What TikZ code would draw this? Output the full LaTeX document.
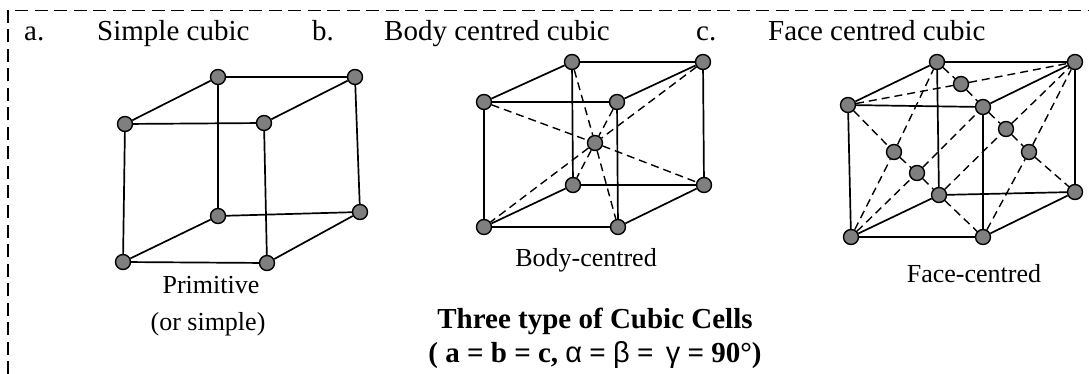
\documentclass[tikz,border=0pt]{standalone}
\usepackage{fontspec}
\setmainfont{Liberation Serif}
\newfontfamily\greekfont{Liberation Sans}
\usetikzlibrary{arrows.meta,positioning}
\definecolor{AtomGrey}{HTML}{7F7F7F}
\tikzset{
  atomdot/.style={circle,fill=AtomGrey,draw=black,line width=1.4pt,inner sep=0pt,minimum size=15pt},
  headtext/.style={anchor=base west,inner sep=0pt,font=\fontsize{29}{33}\selectfont},
  celltext/.style={anchor=base,inner sep=0pt,font=\fontsize{26}{30}\selectfont},
  titletext/.style={anchor=base,inner sep=0pt,font=\fontsize{29}{33}\selectfont\bfseries},
  celledge/.style={black,line width=1.7pt},
  diagedge/.style={black,line width=1.4pt,dash pattern=on 8pt off 5pt},
  framedge/.style={black,line width=1.6pt,dash pattern=on 13pt off 6.5pt}
}
\begin{document}
\begin{tikzpicture}[x=1pt,y=-1pt]
    \useasboundingbox (0,0) rectangle (1089,374);
    % outer frame
    \coordinate (fa) at (8,374);
    \coordinate (fb) at (8,10.5);
    \coordinate (fc) at (1089,10.5);
    \draw[framedge] (fa)--(fb)--(fc);
    % headings
    \node[headtext] (ha) at (24,41) {a.};
    \node[headtext] (hs) at (97,41) {Simple cubic};
    \node[headtext] (hb) at (312,41) {b.};
    \node[headtext] (hi) at (384,41) {Body centred cubic};
    \node[headtext] (hc) at (696,41) {c.};
    \node[headtext] (hf) at (768,41) {Face centred cubic};
    % simple cell
    \node[atomdot] (s1) at (218,77) {};
    \node[atomdot] (s2) at (355,77) {};
    \node[atomdot] (s3) at (125,124) {};
    \node[atomdot] (s4) at (264,123) {};
    \node[atomdot] (s5) at (218,216) {};
    \node[atomdot] (s6) at (360,212) {};
    \node[atomdot] (s7) at (123,262) {};
    \node[atomdot] (s8) at (267,263) {};
    \draw[celledge] (s1)--(s2);
    \draw[celledge] (s3)--(s4);
    \draw[celledge] (s5)--(s6);
    \draw[celledge] (s7)--(s8);
    \draw[celledge] (s1)--(s3);
    \draw[celledge] (s2)--(s4);
    \draw[celledge] (s5)--(s7);
    \draw[celledge] (s6)--(s8);
    \draw[celledge] (s1)--(s5);
    \draw[celledge] (s2)--(s6);
    \draw[celledge] (s3)--(s7);
    \draw[celledge] (s4)--(s8);
    \node[celltext] (sl) at (211,293) {Primitive};
    \node[celltext] (sm) at (208,330) {(or simple)};
    % body centred cell
    \node[atomdot] (b1) at (572,62) {};
    \node[atomdot] (b2) at (703,62) {};
    \node[atomdot] (b3) at (484,102) {};
    \node[atomdot] (b4) at (617,102) {};
    \node[atomdot] (b5) at (573,185) {};
    \node[atomdot] (b6) at (704,185) {};
    \node[atomdot] (b7) at (484,227) {};
    \node[atomdot] (b8) at (618,227) {};
    \node[atomdot] (b9) at (595,143) {};
    \draw[celledge] (b1)--(b2);
    \draw[celledge] (b3)--(b4);
    \draw[celledge] (b5)--(b6);
    \draw[celledge] (b7)--(b8);
    \draw[celledge] (b1)--(b3);
    \draw[celledge] (b2)--(b4);
    \draw[celledge] (b5)--(b7);
    \draw[celledge] (b6)--(b8);
    \draw[celledge] (b1)--(b5);
    \draw[celledge] (b2)--(b6);
    \draw[celledge] (b3)--(b7);
    \draw[celledge] (b4)--(b8);
    \draw[diagedge] (b1)--(b9)--(b8);
    \draw[diagedge] (b2)--(b9)--(b7);
    \draw[diagedge] (b3)--(b9)--(b6);
    \draw[diagedge] (b4)--(b9)--(b5);
    \node[celltext] (bl) at (586,266) {Body-centred};
    % face centred cell
    \node[atomdot] (f1) at (937,62) {};
    \node[atomdot] (f2) at (1075,62) {};
    \node[atomdot] (f3) at (848,105) {};
    \node[atomdot] (f4) at (983,107) {};
    \node[atomdot] (f5) at (939,195) {};
    \node[atomdot] (f6) at (1075,192) {};
    \node[atomdot] (f7) at (851,237) {};
    \node[atomdot] (f8) at (983,237) {};
    \node[atomdot] (f9) at (961,84) {};
    \node[atomdot] (f10) at (894,152) {};
    \node[atomdot] (f11) at (917,173) {};
    \node[atomdot] (f12) at (1006,129) {};
    \node[atomdot] (f13) at (1029,152) {};
    \draw[celledge] (f1)--(f2);
    \draw[celledge] (f3)--(f4);
    \draw[celledge] (f5)--(f6);
    \draw[celledge] (f7)--(f8);
    \draw[celledge] (f1)--(f3);
    \draw[celledge] (f2)--(f4);
    \draw[celledge] (f5)--(f7);
    \draw[celledge] (f6)--(f8);
    \draw[celledge] (f1)--(f5);
    \draw[celledge] (f2)--(f6);
    \draw[celledge] (f3)--(f7);
    \draw[celledge] (f4)--(f8);
    \draw[diagedge] (f3)--(f9)--(f2);
    \draw[diagedge] (f1)--(f9)--(f4);
    \draw[diagedge] (f7)--(f10)--(f1);
    \draw[diagedge] (f3)--(f10)--(f11)--(f5)--(f8);
    \draw[diagedge] (f7)--(f11)--(f4);
    \draw[diagedge] (f4)--(f12)--(f13)--(f6);
    \draw[diagedge] (f5)--(f12)--(f2);
    \draw[diagedge] (f8)--(f13)--(f2);
    \node[celltext] (fl) at (974,282) {Face-centred};
    % caption
    \node[titletext] (ta) at (595,328) {Three type of Cubic Cells};
    \node[titletext] (tb) at (595,362) {( a = b = c, {\greekfont\mdseries α} = {\greekfont\mdseries β} =\, {\greekfont\mdseries γ} = 90°)};
\end{tikzpicture}
\end{document}
